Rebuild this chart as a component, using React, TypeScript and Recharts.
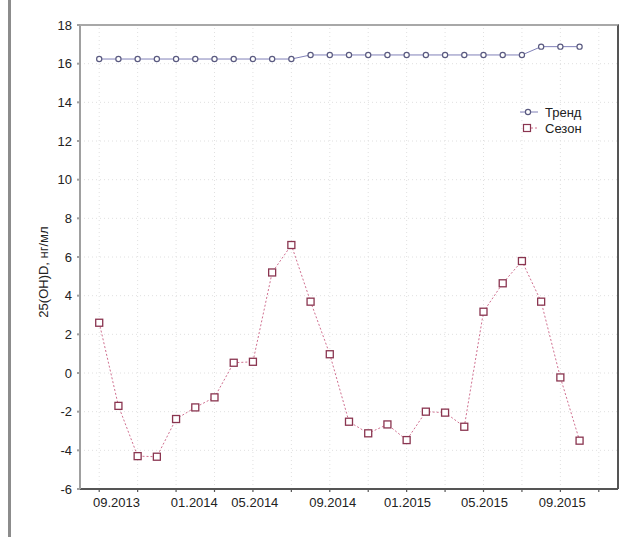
import React from 'react';
import { LineChart, Line, XAxis, YAxis, CartesianGrid, Legend, Label, ReferenceLine } from 'recharts';

const FONT = '"Liberation Sans", Arial, sans-serif';

// monthly points, 09.2013 .. 10.2015
const months = [
  '09.2013', '10.2013', '11.2013', '12.2013', '01.2014', '02.2014', '03.2014', '04.2014',
  '05.2014', '06.2014', '07.2014', '08.2014', '09.2014', '10.2014', '11.2014', '12.2014',
  '01.2015', '02.2015', '03.2015', '04.2015', '05.2015', '06.2015', '07.2015', '08.2015',
  '09.2015', '10.2015',
];

const trend = [
  16.24, 16.24, 16.24, 16.24, 16.24, 16.24, 16.24, 16.24, 16.24, 16.24, 16.24,
  16.45, 16.45, 16.45, 16.45, 16.45, 16.45, 16.45, 16.45, 16.45, 16.45, 16.45, 16.45,
  16.88, 16.88, 16.88,
];

const season = [
  2.6, -1.7, -4.3, -4.33, -2.38, -1.78, -1.26, 0.53, 0.58, 5.2, 6.62, 3.69, 0.97,
  -2.52, -3.12, -2.66, -3.47, -2.0, -2.05, -2.78, 3.17, 4.64, 5.79, 3.69, -0.23, -3.5,
];

const xLabelTicks = [0.9, 4.95, 8.1, 12.15, 16.05, 20.05, 24.1];
const xLabelText = ['09.2013', '01.2014', '05.2014', '09.2014', '01.2015', '05.2015', '09.2015'];
const xGridTicks = [0, 2, 4, 6, 8, 10, 12, 14, 16, 18, 20, 22, 24, 26];
const yTicks = [-6, -4, -2, 0, 2, 4, 6, 8, 10, 12, 14, 16, 18];
const X_DOMAIN = [-1, 27];
const Y_DOMAIN = [-6, 18];
const legendOrder = ['Тренд', 'Сезон'];

const data = months.map((m, i) => ({ idx: i, month: m, trend: trend[i], season: season[i] }));
const allXTicks = [...xGridTicks, ...xLabelTicks].sort((a, b) => a - b);

const W = 641;
const H = 537;
const MARGIN = { top: 25, right: 23, bottom: 0, left: 0 };
const Y_AXIS_W = 80;
const X_AXIS_H = 48;
const TICK_SIZE = 5;
const TICK_MARGIN = 4;

const BottomTick = (props: any) => {
  const { x, y, payload } = props;
  const v = payload.value;
  const li = xLabelTicks.indexOf(v);
  if (li >= 0) {
    return (
      <text x={x} y={y} dy="0.71em" textAnchor="middle" fontSize={13} fontFamily={FONT} fill="#222">
        {xLabelText[li]}
      </text>
    );
  }
  const axisY = y - TICK_SIZE - TICK_MARGIN;
  return <line x1={x} y1={axisY} x2={x} y2={axisY + 3} stroke="#555" strokeWidth={1.2} />;
};

const SquareDot = (props: any) => {
  const { cx, cy, index } = props;
  if (cx == null || cy == null) return null;
  return (
    <rect key={'sq' + index} x={cx - 3.5} y={cy - 3.5} width={7} height={7}
      fill="#fff" stroke="#8a3550" strokeWidth={1.3} />
  );
};

const YLabel = (props: any) => {
  const vb = props.viewBox;
  const x = vb.x + 43;
  const y = vb.y + vb.height / 2 + 15;
  return (
    <text x={x} y={y} transform={`rotate(-90, ${x}, ${y})`} textAnchor="middle"
      dominantBaseline="central" fontSize={13} fontFamily={FONT} fill="#222">
      25(OH)D, нг/мл
    </text>
  );
};

const renderLegend = (props: any) => {
  const items = (props.payload || [])
    .filter((e: any) => legendOrder.includes(e.value))
    .sort((a: any, b: any) => legendOrder.indexOf(a.value) - legendOrder.indexOf(b.value));
  return (
    <div style={{ fontFamily: FONT, fontSize: 13, color: '#222' }}>
      {items.map((entry: any) => (
        <div key={entry.value} style={{ display: 'flex', alignItems: 'center', height: 16 }}>
          <svg width={27} height={16}>
            {entry.value === 'Тренд' ? (
              <g>
                <line x1={2} y1={8} x2={20} y2={8} stroke="#8080b8" />
                <circle cx={10} cy={8} r={2.6} fill="#fff" stroke="#5a5a80" strokeWidth={1.2} />
              </g>
            ) : (
              <g>
                <line x1={9} y1={8} x2={19} y2={8} stroke="#d07090" strokeDasharray="2 2" />
                <rect x={5.5} y={4.5} width={7} height={7} fill="#fff" stroke="#8a3550" strokeWidth={1.2} />
              </g>
            )}
          </svg>
          <span>{entry.value}</span>
        </div>
      ))}
    </div>
  );
};

export default function App() {
  const plotLeft = MARGIN.left + Y_AXIS_W;
  const plotTop = MARGIN.top;
  const plotW = W - plotLeft - MARGIN.right;
  const plotH = H - plotTop - MARGIN.bottom - X_AXIS_H;
  return (
    <div style={{ position: 'absolute', left: 0, top: 0, width: W, height: H, background: '#fff' }}>
      <div style={{ position: 'absolute', left: 8, top: 0, width: 3, height: H, background: '#8c8c8c' }} />
      <div style={{ position: 'absolute', left: 0, top: 0, zIndex: 1 }}>
        <LineChart width={W} height={H} data={data} margin={MARGIN}>
          <CartesianGrid stroke="#e0e0e0" strokeDasharray="1 3" vertical={false} />
          {xGridTicks.map((v) => (
            <ReferenceLine key={'g' + v} x={v} stroke="#e0e0e0" strokeDasharray="1 3" />
          ))}
          <XAxis type="number" dataKey="idx" domain={X_DOMAIN} ticks={allXTicks}
            height={X_AXIS_H} tickLine={false} tickSize={TICK_SIZE} tickMargin={TICK_MARGIN}
            interval={0} stroke="#555" strokeWidth={2} tick={<BottomTick />} />
          <YAxis type="number" domain={Y_DOMAIN} ticks={yTicks} width={Y_AXIS_W} interval={0}
            tickSize={3} tickMargin={5} stroke="#a0a0a0" strokeWidth={2}
            tick={{ fontSize: 13, fontFamily: FONT, fill: '#222' }}>
            <Label content={YLabel} />
          </YAxis>
          <Legend layout="vertical" align="center" verticalAlign="middle" content={renderLegend}
            wrapperStyle={{ left: 518, top: 104, width: 90 }} />
          <Line name="Тренд" dataKey="trend" type="linear" stroke="#8080b8"
            strokeWidth={1} dot={{ r: 2.6, fill: '#fff', stroke: '#5a5a80', strokeWidth: 1.2 }}
            isAnimationActive={false} />
          <Line name="Сезон" dataKey="season" type="linear" stroke="#d07090"
            strokeWidth={1} strokeDasharray="2 2" dot={SquareDot} isAnimationActive={false} />
        </LineChart>
      </div>
      {/* top and right edges of the plot frame */}
      <div style={{
        position: 'absolute', left: plotLeft, top: plotTop - 1, width: plotW + 1, height: plotH + 1,
        borderTop: '2px solid #a8a8a8', borderRight: '2px solid #555',
        boxSizing: 'border-box', pointerEvents: 'none', zIndex: 5,
      }} />
    </div>
  );
}
